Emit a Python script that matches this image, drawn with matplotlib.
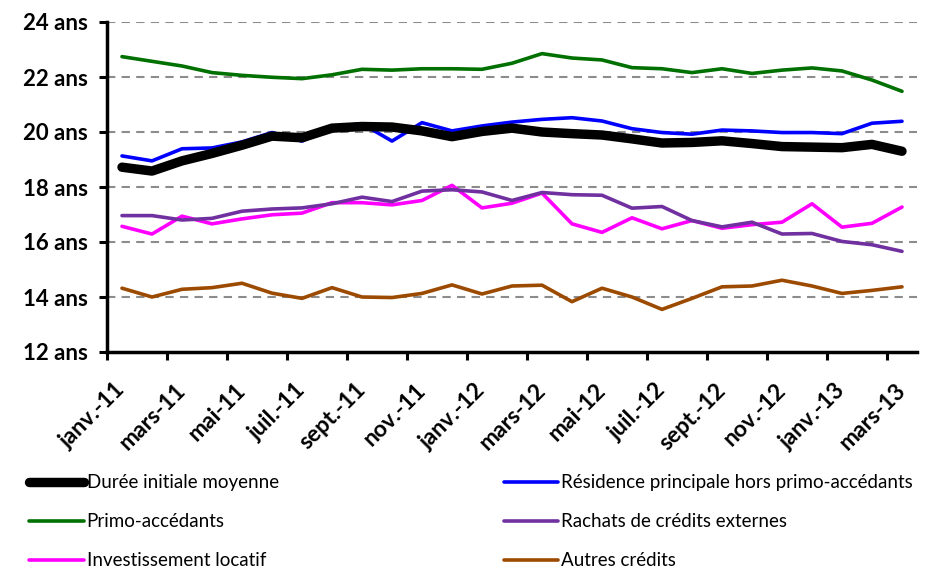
import numpy as np
import matplotlib
matplotlib.use("Agg")
import matplotlib.pyplot as plt
from matplotlib.lines import Line2D

plt.rcParams["font.family"] = ["Lato", "DejaVu Sans"]

months = ["janv.-11", "févr.-11", "mars-11", "avr.-11", "mai-11", "juin-11",
          "juil.-11", "août-11", "sept.-11", "oct.-11", "nov.-11", "déc.-11",
          "janv.-12", "févr.-12", "mars-12", "avr.-12", "mai-12", "juin-12",
          "juil.-12", "août-12", "sept.-12", "oct.-12", "nov.-12", "déc.-12",
          "janv.-13", "févr.-13", "mars-13"]

duree_moyenne = [18.72, 18.58, 18.95, 19.22, 19.52, 19.85, 19.79, 20.14, 20.2, 20.18,
                 20.04, 19.83, 20.02, 20.14, 20.0, 19.94, 19.89, 19.75, 19.6, 19.62,
                 19.68, 19.58, 19.47, 19.45, 19.43, 19.55, 19.3]
residence = [19.13, 18.95, 19.39, 19.42, 19.64, 19.98, 19.67, 20.19, 20.3, 19.67,
             20.34, 20.04, 20.22, 20.36, 20.46, 20.52, 20.4, 20.12, 19.98, 19.92,
             20.07, 20.04, 19.98, 19.98, 19.94, 20.32, 20.39]
primo = [22.74, 22.57, 22.4, 22.16, 22.06, 21.99, 21.94, 22.08, 22.28, 22.25,
         22.3, 22.3, 22.28, 22.5, 22.85, 22.69, 22.62, 22.34, 22.3, 22.16,
         22.3, 22.13, 22.25, 22.33, 22.22, 21.89, 21.48]
rachats = [16.96, 16.96, 16.8, 16.86, 17.12, 17.2, 17.24, 17.39, 17.63, 17.47,
           17.85, 17.9, 17.82, 17.51, 17.8, 17.72, 17.7, 17.23, 17.29, 16.78,
           16.55, 16.72, 16.29, 16.31, 16.02, 15.9, 15.66]
locatif = [16.57, 16.29, 16.94, 16.66, 16.84, 16.99, 17.05, 17.43, 17.43, 17.35,
           17.51, 18.06, 17.24, 17.41, 17.78, 16.66, 16.35, 16.88, 16.48, 16.78,
           16.5, 16.63, 16.72, 17.39, 16.54, 16.68, 17.27]
autres = [14.32, 14.0, 14.28, 14.34, 14.5, 14.14, 13.95, 14.34, 14.0, 13.98,
          14.13, 14.44, 14.11, 14.4, 14.43, 13.83, 14.32, 14.0, 13.55, 13.95,
          14.37, 14.4, 14.61, 14.4, 14.13, 14.24, 14.37]

series = [
    ("Durée initiale moyenne", duree_moyenne, "#000000", 6.8),
    ("Résidence principale hors primo-accédants", residence, "#0000FF", 2.6),
    ("Primo-accédants", primo, "#007000", 2.6),
    ("Rachats de crédits externes", rachats, "#7030A0", 2.6),
    ("Investissement locatif", locatif, "#FF00FF", 2.6),
    ("Autres crédits", autres, "#9C4A00", 2.6),
]

fig = plt.figure(figsize=(9.36, 5.70), dpi=100)
ax = fig.add_axes([107 / 936, 1 - 352 / 570, 810 / 936, 330 / 570])

x = np.arange(len(months))
handles = {}
for name, vals, color, lw in reversed(series):
    ax.plot(x, vals, color=color, lw=lw, solid_capstyle="round",
            solid_joinstyle="round", zorder=3)
    handles[name] = Line2D([], [], color=color, lw=lw, solid_capstyle="round")

ax.set_xlim(-0.5, len(months) - 0.5)
ax.set_ylim(12, 24)
yt = np.arange(12, 25, 2)
ax.set_yticks(yt, [f"{v} ans" for v in yt], fontsize=16, fontweight="bold")
for v in yt[1:]:
    ax.axhline(v, color="#8c8c8c", lw=1.5, ls=(0, (4, 3)), zorder=1)

ax.set_xticks(x[::2], months[::2], fontsize=16.5, fontweight="bold",
              rotation=45, ha="right", va="center", rotation_mode="anchor")
ax.set_xticks(np.arange(-0.5, len(months) - 1, 2), minor=True)
ax.tick_params(axis="x", which="major", length=0, pad=25)
ax.tick_params(axis="x", which="minor", length=6, width=2.2, direction="out")
ax.tick_params(axis="y", length=6, width=2.2, direction="out", pad=8)

for s in ("top", "right"):
    ax.spines[s].set_visible(False)
for s in ("left", "bottom"):
    ax.spines[s].set_linewidth(2.5)

order = ["Durée initiale moyenne", "Primo-accédants", "Investissement locatif",
         "Résidence principale hors primo-accédants", "Rachats de crédits externes",
         "Autres crédits"]
fig.legend([handles[n] for n in order], order, ncol=2, frameon=False,
           loc="upper left", bbox_to_anchor=(20 / 936, 1 - 465 / 570),
           fontsize=13.5, handlelength=2.9, handletextpad=0.15,
           labelspacing=1.17, columnspacing=12.0, borderpad=0)

fig.savefig("out.png", dpi=100)
